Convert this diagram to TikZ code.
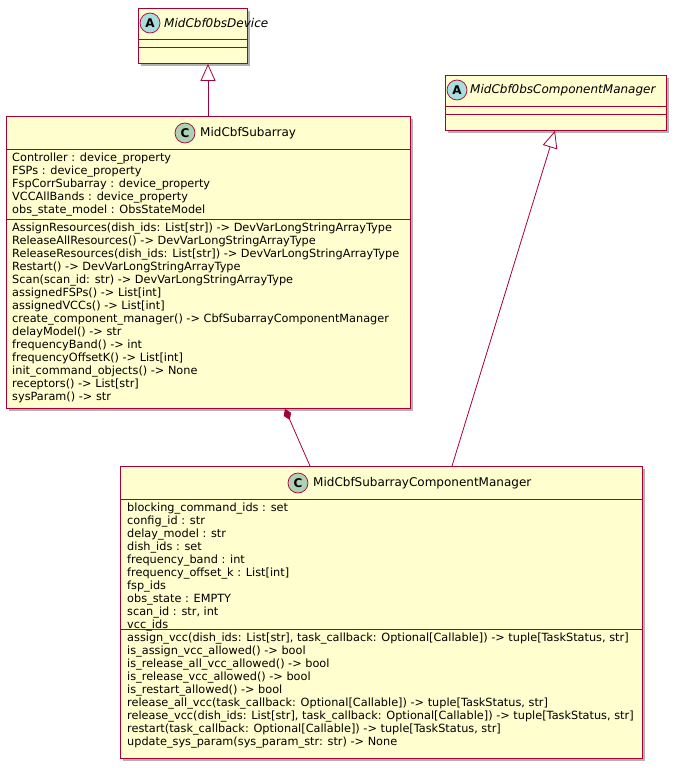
\documentclass[tikz,border=0pt]{standalone}
\usepackage{fontspec}
\setmainfont{DejaVu Sans}
\usetikzlibrary{arrows.meta,calc}
\definecolor{cfill}{HTML}{FEFECE}
\definecolor{cline}{HTML}{A80036}
\definecolor{cicon}{HTML}{ADD1B2}
\definecolor{aicon}{HTML}{A9DCDF}
\begin{document}
\begin{tikzpicture}[x=1pt,y=-1pt,
  boxs/.style={draw=cline,fill=cfill,line width=0.9pt,anchor=north west,inner sep=0},
  txt/.style={anchor=north west,inner sep=0,font=\fontsize{11.3}{13}\selectfont,align=left},
  ttl/.style={anchor=west,inner sep=0,font=\fontsize{12}{14}\selectfont},
  attl/.style={anchor=west,inner sep=0,font=\fontsize{12}{14}\selectfont\itshape},
  icon/.style={circle,draw=cline,line width=0.7pt,minimum size=20pt,inner sep=0,font=\fontsize{12}{14}\selectfont\bfseries},
  conn/.style={draw=cline,line width=0.8pt},
  inh/.style={conn,-{Triangle[open,length=17pt,width=15pt,fill=white]}}]
\useasboundingbox (0,0) rectangle (676,768);
% shadows
\fill[black!30] (141,11) rectangle (250,66);
\fill[black!30] (9,119) rectangle (413,411);
\fill[black!30] (448,78) rectangle (669,133);
\fill[black!30] (123,469) rectangle (645,761);
% device
\node[boxs,minimum width=109pt,minimum height=55pt] (dev) at (138,8) {};
\draw[cline,line width=0.9pt] (138,39) -- (247,39) (138,47) -- (247,47);
\node[icon,fill=aicon] (devi) at (150,23) {A};
\node[attl] (devt) at (164,23) {MidCbf0bsDevice};
% subarray
\node[boxs,minimum width=404pt,minimum height=292pt] (sub) at (6,116) {};
\draw[cline,line width=0.9pt] (6,149) -- (410,149) (6,219) -- (410,219);
\node[icon,fill=cicon] (subi) at (185,133) {C};
\node[ttl] (subt) at (200,133) {MidCbfSubarray};
\node[txt] (suba) at (12,153) {Controller : device\_property\\FSPs : device\_property\\FspCorrSubarray : device\_property\\VCCAllBands : device\_property\\obs\_state\_model : ObsStateModel};
\node[txt] (subm) at (12,223) {AssignResources(dish\_ids: List[str]) -> DevVarLongStringArrayType\\ReleaseAllResources() -> DevVarLongStringArrayType\\ReleaseResources(dish\_ids: List[str]) -> DevVarLongStringArrayType\\Restart() -> DevVarLongStringArrayType\\Scan(scan\_id: str) -> DevVarLongStringArrayType\\assignedFSPs() -> List[int]\\assignedVCCs() -> List[int]\\create\_component\_manager() -> CbfSubarrayComponentManager\\delayModel() -> str\\frequencyBand() -> int\\frequencyOffsetK() -> List[int]\\init\_command\_objects() -> None\\receptors() -> List[str]\\sysParam() -> str};
% obs component manager
\node[boxs,minimum width=221pt,minimum height=55pt] (ocm) at (445,75) {};
\draw[cline,line width=0.9pt] (445,106) -- (666,106) (445,114) -- (666,114);
\node[icon,fill=aicon] (ocmi) at (457,90) {A};
\node[attl] (ocmt) at (470,90) {MidCbf0bsComponentManager};
% subarray component manager
\node[boxs,minimum width=522pt,minimum height=292pt] (cm) at (120,466) {};
\draw[cline,line width=0.9pt] (120,499) -- (642,499) (120,629) -- (642,629);
\node[icon,fill=cicon] (cmi) at (298,483) {C};
\node[ttl] (cmt) at (313,483) {MidCbfSubarrayComponentManager};
\node[txt] (cma) at (127,503) {blocking\_command\_ids : set\\config\_id : str\\delay\_model : str\\dish\_ids : set\\frequency\_band : int\\frequency\_offset\_k : List[int]\\fsp\_ids\\obs\_state : EMPTY\\scan\_id : str, int\\vcc\_ids};
\node[txt] (cmm) at (127,633) {assign\_vcc(dish\_ids: List[str], task\_callback: Optional[Callable]) -> tuple[TaskStatus, str]\\is\_assign\_vcc\_allowed() -> bool\\is\_release\_all\_vcc\_allowed() -> bool\\is\_release\_vcc\_allowed() -> bool\\is\_restart\_allowed() -> bool\\release\_all\_vcc(task\_callback: Optional[Callable]) -> tuple[TaskStatus, str]\\release\_vcc(dish\_ids: List[str], task\_callback: Optional[Callable]) -> tuple[TaskStatus, str]\\restart(task\_callback: Optional[Callable]) -> tuple[TaskStatus, str]\\update\_sys\_param(sys\_param\_str: str) -> None};
% connectors
\draw[inh] ($(sub.north west)+(202,0)$) -- ($(dev.south west)+(70,0)$);
\draw[inh] ($(cm.north west)+(332,0)$) -- ($(ocm.south west)+(110,0)$);
\draw[conn,{Diamond[length=12pt,width=8pt,fill=cline]}-] ($(sub.south west)+(279,0)$) -- ($(cm.north west)+(190,0)$);
\end{tikzpicture}
\end{document}
